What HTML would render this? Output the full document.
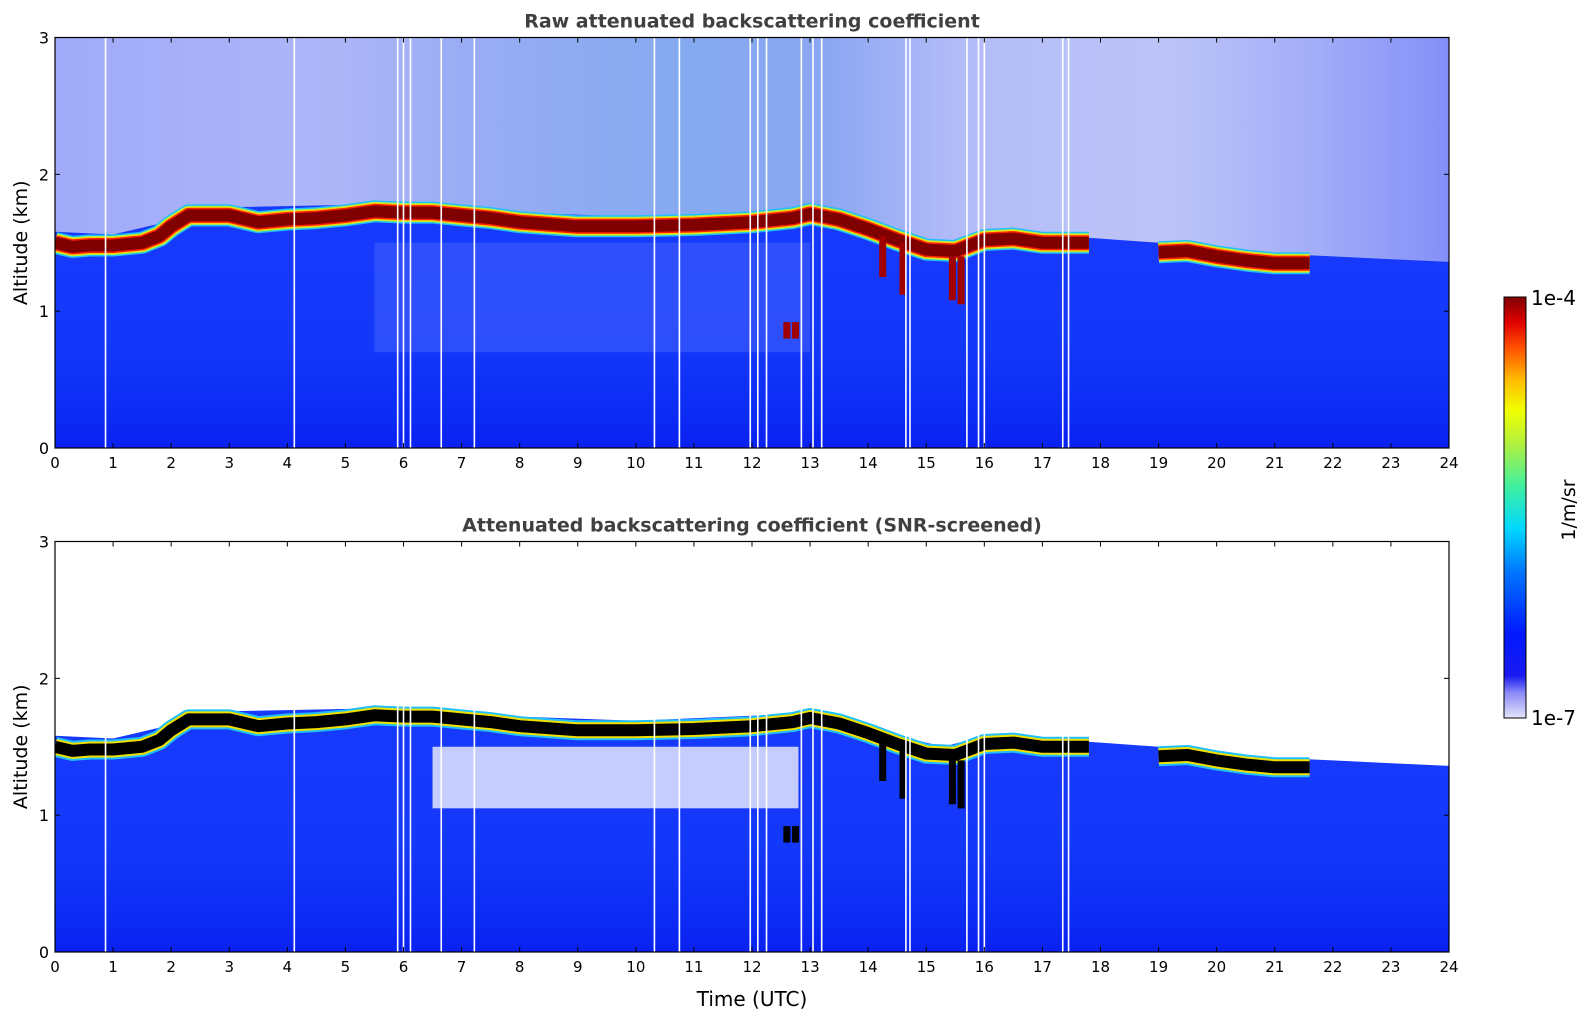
<!DOCTYPE html>
<html><head><meta charset="utf-8"><style>
body{margin:0;background:#fff;}
svg{display:block;font-family:"DejaVu Sans","Liberation Sans",sans-serif;}
</style></head><body>
<svg id="chart" width="1595" height="1020" viewBox="0 0 1595 1020" xmlns="http://www.w3.org/2000/svg">
<defs>
<linearGradient id="noiseTop" x1="0" x2="1" y1="0" y2="0">
<stop offset="0" stop-color="#a0aaf8"/><stop offset="0.2" stop-color="#aeb6f8"/>
<stop offset="0.3" stop-color="#98acf4"/><stop offset="0.45" stop-color="#86aaf0"/>
<stop offset="0.55" stop-color="#8aa6f2"/><stop offset="0.65" stop-color="#b4bcf8"/>
<stop offset="0.8" stop-color="#bcc4f8"/><stop offset="0.9" stop-color="#a4aef8"/>
<stop offset="1" stop-color="#8490f8"/></linearGradient>
<linearGradient id="blueBase" x1="0" x2="0" y1="0" y2="1">
<stop offset="0" stop-color="#1a3cff"/><stop offset="0.75" stop-color="#1438fa"/>
<stop offset="0.92" stop-color="#0c2cf4"/><stop offset="1" stop-color="#0a20f0"/></linearGradient>
<linearGradient id="cbar" x1="0" x2="0" y1="1" y2="0">
<stop offset="0" stop-color="#e4e4fa"/><stop offset="0.06" stop-color="#8a8af8"/>
<stop offset="0.1" stop-color="#1a1af0"/><stop offset="0.2" stop-color="#0018ff"/>
<stop offset="0.35" stop-color="#0078ff"/><stop offset="0.45" stop-color="#00d8ff"/>
<stop offset="0.55" stop-color="#40f0a0"/><stop offset="0.65" stop-color="#b0f040"/>
<stop offset="0.73" stop-color="#f0ff00"/><stop offset="0.8" stop-color="#ffc000"/>
<stop offset="0.88" stop-color="#ff5000"/><stop offset="0.94" stop-color="#e00000"/>
<stop offset="1" stop-color="#800000"/></linearGradient>
<clipPath id="clipTop"><rect x="55" y="37.5" width="1394" height="410.5"/></clipPath>
<clipPath id="clipBot"><rect x="55" y="541.5" width="1394" height="410.5"/></clipPath>
</defs>
</svg>
<script>
const hourTicks = [0,1,2,3,4,5,6,7,8,9,10,11,12,13,14,15,16,17,18,19,20,21,22,23,24];
const altTicks = [0,1,2,3];
const layerTimes1 = [0,0.3,0.6,1,1.5,1.8,2,2.3,2.7,3,3.5,4,4.5,5,5.5,6,6.5,7,7.5,8,9,10,11,12,12.7,13,13.5,14,14.5,15,15.5,16,16.5,17,17.8];
const layerAlt1 = [1.5,1.47,1.48,1.48,1.5,1.55,1.62,1.7,1.7,1.7,1.65,1.67,1.68,1.7,1.73,1.72,1.72,1.7,1.68,1.65,1.62,1.62,1.63,1.65,1.68,1.71,1.67,1.6,1.52,1.45,1.44,1.52,1.53,1.5,1.5];
const layerTimes2 = [19,19.5,20,20.5,21,21.6];
const layerAlt2 = [1.43,1.44,1.4,1.37,1.35,1.35];
const blueTopTimes = [0,1,2,3,5.5,8,10,12.7,13.5,14.5,15.3,16,17,18,19,20,21,22,23,24];
const blueTopAlt = [1.58,1.56,1.66,1.76,1.78,1.72,1.69,1.74,1.7,1.58,1.5,1.58,1.56,1.53,1.5,1.46,1.42,1.4,1.38,1.36];
const dropTimes = [14.25,14.6,15.45,15.6,12.6,12.75];
const dropBottom = [1.25,1.12,1.08,1.05,0.8,0.8];
const dropTopAlt = [1.55,1.5,1.4,1.4,0.92,0.92];
const gapTimes = [0.87,4.12,5.9,6.0,6.12,6.65,7.22,10.32,10.75,11.97,12.1,12.25,12.85,13.05,13.2,14.65,14.72,15.7,15.9,16.0,17.35,17.45];
const whitePatchT = [6.5,12.8];
const whitePatchA = [1.05,1.5];

const NS='http://www.w3.org/2000/svg';
const svg=document.getElementById('chart');
const X0=55,X1=1449,H=410.5;
function xs(t){return X0+(t/24)*(X1-X0);}
function mk(tag,attrs,parent){const e=document.createElementNS(NS,tag);for(const k in attrs)e.setAttribute(k,attrs[k]);(parent||svg).appendChild(e);return e;}
function pts(ts,as,ys){return ts.map((t,i)=>xs(t).toFixed(1)+','+ys(as[i]).toFixed(1)).join(' ');}

function panel(top,mode,title){
  const ys=a=>top+H-(a/3)*H;
  const g=mk('g',{'clip-path':'url(#'+(mode==='raw'?'clipTop':'clipBot')+')'});
  
  
  mk('rect',{x:X0,y:top,width:X1-X0,height:H,fill:'url(#blueBase)'},g);
  let poly=pts(blueTopTimes,blueTopAlt,ys)+' '+xs(24)+','+ys(3)+' '+xs(0)+','+ys(3);
  const nz=mk('polygon',{points:poly,fill:mode==='raw'?'url(#noiseTop)':'#ffffff'},g);
  
  
  if(mode==='raw'){
    mk('rect',{x:xs(5.5),y:ys(1.5),width:xs(13)-xs(5.5),height:ys(0.7)-ys(1.5),fill:'#6a84ff',opacity:0.3},g);
  } else {
    const wp=mk('rect',{x:xs(whitePatchT[0]),y:ys(whitePatchA[1]),width:xs(whitePatchT[1])-xs(whitePatchT[0]),height:ys(whitePatchA[0])-ys(whitePatchA[1]),fill:'#ffffff',opacity:0.75},g);
    
    
  }
  const layers=[[layerTimes1,layerAlt1],[layerTimes2,layerAlt2]];
  const strokes = mode==='raw'
    ? [['#20c0ff',22],['#b0f040',19],['#ffd000',17],['#ff2000',15],['#800000',12]]
    : [['#20c0ff',20],['#f0e000',16],['#000000',12]];
  layers.forEach((L,li)=>{
    strokes.forEach(s=>{
      const pl=mk('polyline',{points:pts(L[0],L[1],ys),fill:'none',stroke:s[0],'stroke-width':s[1],'stroke-linejoin':'round'},g);
      
      
    });
  });
  dropTimes.forEach((t,i)=>{
    const d=mk('line',{x1:xs(t),x2:xs(t),y1:ys(dropTopAlt[i]),y2:ys(dropBottom[i]),stroke:mode==='raw'?'#a00000':'#000000','stroke-width':7},g);
    
    
  });
  gapTimes.forEach(t=>{
    const l=mk('line',{x1:xs(t),x2:xs(t),y1:top,y2:top+H,stroke:'#ffffff','stroke-width':1.6},g);
    
    
  });
  const fr=mk('rect',{x:X0,y:top,width:X1-X0,height:H,fill:'none',stroke:'#000','stroke-width':1.2});
  
  
  hourTicks.forEach(h=>{
    const x=xs(h);
    mk('line',{x1:x,x2:x,y1:top+H,y2:top+H-5,stroke:'#000'});
    mk('line',{x1:x,x2:x,y1:top,y2:top+5,stroke:'#000'});
    const tx=mk('text',{x:x,y:top+H+20,'font-size':15,'text-anchor':'middle',fill:'#000'});
    tx.textContent=h;
    
    
  });
  altTicks.forEach(a=>{
    const y=ys(a);
    mk('line',{x1:X0,x2:X0+5,y1:y,y2:y,stroke:'#000'});
    mk('line',{x1:X1,x2:X1-5,y1:y,y2:y,stroke:'#000'});
    const tx=mk('text',{x:X0-6,y:y+6,'font-size':16,'text-anchor':'end',fill:'#000'});
    tx.textContent=a;
    
    
  });
  const yl=mk('text',{x:27,y:top+H/2,'font-size':19,'text-anchor':'middle',transform:'rotate(-90 27 '+(top+H/2)+')'});
  yl.textContent='Altitude (km)';
  
  
  const tt=mk('text',{x:(X0+X1)/2,y:top-10,'font-size':19,'font-weight':'bold','text-anchor':'middle',fill:'#404040'});
  tt.textContent=title;
  
  
}
panel(37.5,'raw','Raw attenuated backscattering coefficient');
panel(541.5,'snr','Attenuated backscattering coefficient (SNR-screened)');
const xl=mk('text',{x:752,y:1006,'font-size':20,'text-anchor':'middle'});
xl.textContent='Time (UTC)';


const cb=mk('rect',{x:1504,y:297,width:22,height:421,fill:'url(#cbar)',stroke:'#000','stroke-width':1});


const c1=mk('text',{x:1531,y:305,'font-size':20});c1.textContent='1e-4';


const c2=mk('text',{x:1531,y:725,'font-size':20});c2.textContent='1e-7';


const cl=mk('text',{x:1575,y:510,'font-size':19,'text-anchor':'middle',transform:'rotate(-90 1575 510)'});
cl.textContent='1/m/sr';


</script>
</body></html>
